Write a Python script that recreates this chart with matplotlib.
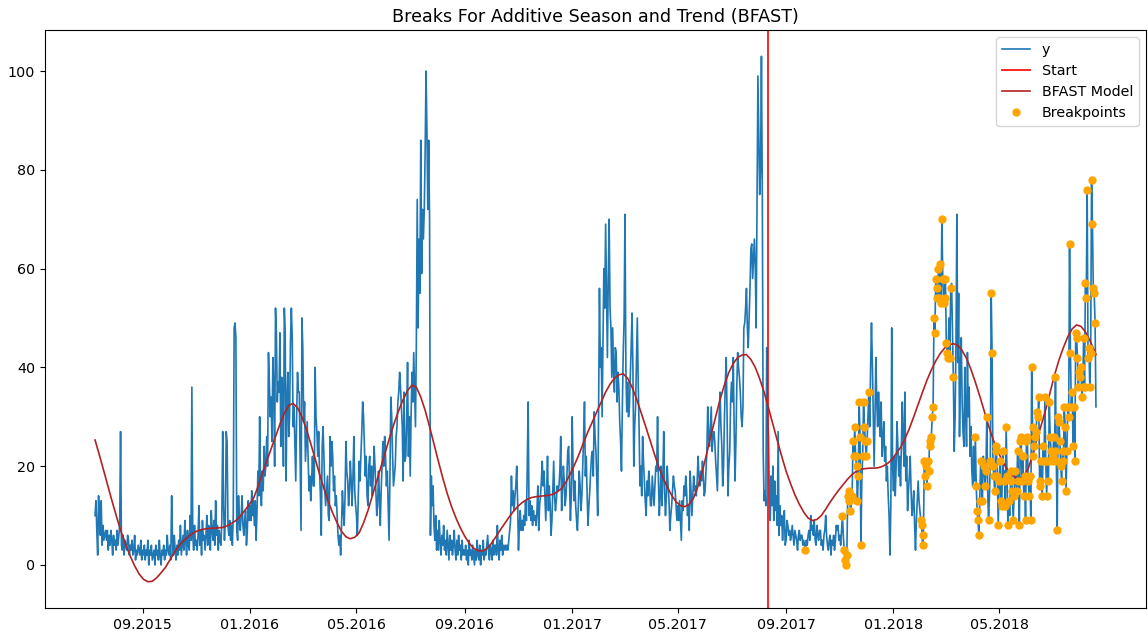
import numpy as np
import pandas as pd
import matplotlib
matplotlib.use("Agg")
import matplotlib.pyplot as plt
import matplotlib.dates as mdates

# ---------------- data (daily values, one list per month) ----------------
y_2015_07 = [10, 13, 7, 2, 14, 9, 6, 13, 4, 8, 5, 6, 7, 5, 7, 3, 6, 4, 7, 5, 2, 6, 4]  # from 07-09
y_2015_08 = [5, 3, 7, 4, 6, 8, 27, 4, 3, 6, 2, 5, 4, 3, 6, 5, 2, 4, 3, 5, 2, 3, 6, 1, 3, 2, 4, 3, 2, 5, 1]
y_2015_09 = [3, 2, 4, 1, 3, 2, 5, 0, 3, 2, 4, 1, 2, 3, 0, 4, 2, 3, 1, 5, 2, 0, 3, 2, 4, 1, 3, 2, 6, 3]
y_2015_10 = [2, 4, 1, 14, 5, 2, 6, 3, 1, 4, 2, 5, 3, 8, 2, 4, 6, 3, 9, 5, 2, 7, 4, 3, 10, 5, 36, 6, 3, 8, 4]
y_2015_11 = [5, 3, 6, 12, 4, 7, 2, 9, 5, 6, 3, 6, 10, 4, 8, 6, 3, 11, 7, 5, 9, 4, 13, 6, 8, 3, 7, 5, 4, 9]
y_2015_12 = [27, 12, 5, 9, 27, 25, 8, 6, 9, 5, 8, 4, 10, 48, 49, 46, 7, 5, 14, 9, 7, 10, 14, 8, 6, 9, 11, 4, 7, 13, 9]
y_2016_01 = [12, 9, 15, 10, 13, 8, 13, 5, 11, 19, 14, 30, 16, 12, 19, 15, 24, 18, 20, 26, 20, 43, 37, 30, 34, 25, 42, 36, 20, 52, 47]
y_2016_02 = [33, 37, 35, 47, 24, 38, 36, 20, 52, 47, 17, 33, 39, 26, 30, 45, 52, 46, 28, 32, 24, 17, 30, 39, 35, 35, 21, 7, 50]
y_2016_03 = [44, 29, 33, 21, 25, 29, 22, 15, 18, 13, 17, 22, 16, 16, 40, 30, 27, 22, 27, 19, 14, 6, 24, 28, 22, 15, 12, 15, 18, 10, 9]
y_2016_04 = [26, 20, 25, 22, 15, 18, 12, 14, 10, 6, 4, 6, 2, 8, 15, 11, 8, 14, 25, 19, 17, 12, 15, 21, 17, 12, 18, 26, 15, 12]
y_2016_05 = [10, 6, 14, 21, 17, 22, 27, 33, 30, 24, 18, 22, 14, 12, 20, 22, 16, 20, 14, 18, 24, 20, 15, 10, 12, 19, 14, 8, 15, 20, 25]
y_2016_06 = [20, 26, 22, 16, 19, 12, 5, 18, 34, 30, 22, 16, 18, 20, 26, 28, 33, 35, 39, 36, 32, 28, 17, 35, 21, 22, 29, 41, 22, 30]
y_2016_07 = [18, 30, 39, 33, 43, 35, 28, 45, 74, 48, 66, 55, 86, 59, 72, 66, 72, 84, 100, 88, 72, 86, 70, 6, 18, 12, 16, 8, 5, 10, 3]
y_2016_08 = [7, 3, 9, 5, 2, 6, 4, 8, 3, 5, 2, 7, 4, 1, 6, 3, 5, 2, 4, 7, 3, 1, 5, 2, 6, 3, 4, 1, 5, 2, 3]
y_2016_09 = [2, 4, 1, 3, 0, 5, 2, 3, 1, 4, 2, 0, 3, 1, 5, 2, 1, 4, 0, 3, 2, 5, 1, 3, 2, 4, 6, 3, 1, 4]
y_2016_10 = [3, 1, 5, 2, 4, 4, 2, 8, 3, 1, 5, 3, 6, 2, 4, 3, 4, 3, 4, 3, 5, 7, 9, 18, 12, 15, 11, 14, 16, 20, 13]
y_2016_11 = [3, 8, 11, 7, 9, 7, 10, 8, 13, 9, 20, 33, 10, 13, 9, 12, 8, 11, 9, 10, 8, 11, 16, 7, 12, 14, 17, 21, 16, 19]
y_2016_12 = [14, 9, 15, 22, 11, 16, 12, 6, 9, 15, 21, 14, 11, 13, 16, 15, 16, 19, 26, 11, 15, 20, 17, 12, 14, 18, 23, 24, 16, 9, 14]
y_2017_01 = [30, 20, 13, 17, 12, 9, 7, 12, 19, 16, 11, 14, 20, 26, 33, 18, 22, 14, 8, 12, 15, 19, 22, 23, 18, 31, 26, 23, 17, 10, 31]
y_2017_02 = [56, 40, 44, 30, 45, 60, 52, 69, 55, 42, 58, 70, 52, 48, 38, 48, 39, 35, 44, 43, 33, 39, 36, 29, 25, 19, 32, 43]
y_2017_03 = [50, 71, 40, 31, 37, 30, 32, 38, 44, 51, 40, 20, 28, 32, 41, 50, 37, 28, 16, 20, 14, 26, 21, 17, 13, 10, 17, 14, 19, 16, 12]
y_2017_04 = [12, 18, 15, 12, 16, 20, 19, 30, 17, 10, 14, 20, 12, 18, 27, 15, 10, 14, 20, 16, 13, 7, 10, 12, 15, 18, 16, 15, 12, 9]
y_2017_05 = [12, 9, 13, 9, 5, 13, 11, 16, 14, 18, 15, 10, 12, 7, 19, 15, 10, 14, 18, 15, 16, 14, 17, 22, 18, 16, 19, 17, 21, 18, 14]
y_2017_06 = [15, 19, 23, 32, 26, 24, 28, 32, 23, 26, 27, 25, 21, 18, 15, 24, 30, 35, 28, 24, 16, 20, 30, 37, 42, 30, 14, 20, 23, 33]
y_2017_07 = [37, 33, 42, 28, 17, 25, 36, 43, 40, 38, 35, 30, 28, 32, 48, 49, 52, 56, 48, 44, 50, 56, 64, 65, 58, 62, 66, 60, 48, 75, 99]
y_2017_08 = [87, 75, 80, 103, 75, 23, 13, 15, 12, 44, 30, 26, 14, 9, 18, 12, 20, 9, 17, 11, 14, 8, 27, 6, 12, 8, 10, 5, 9, 11, 4]
y_2017_09 = [5, 9, 8, 6, 7, 5, 6, 8, 6, 4, 7, 6, 5, 3, 6, 7, 5, 6, 6, 4, 5, 4, 3, 5, 4, 6, 7, 5, 10, 7]
y_2017_10 = [8, 6, 9, 5, 4, 8, 6, 5, 7, 7, 4, 5, 3, 6, 7, 10, 6, 4, 3, 5, 6, 2, 5, 4, 6, 3, 5, 8, 7, 8, 5]
y_2017_11 = [6, 4, 7, 10, 6, 3, 1, 0, 2, 14, 13, 15, 11, 12, 14, 25, 22, 28, 22, 20, 13, 18, 33, 26, 4, 17, 22, 33, 28, 25]
y_2017_12 = [22, 25, 30, 35, 28, 40, 49, 41, 30, 20, 30, 42, 33, 28, 35, 30, 26, 33, 22, 25, 29, 21, 24, 17, 20, 14, 10, 2, 12, 48, 20]
y_2018_01 = [15, 22, 14, 20, 29, 24, 18, 22, 16, 24, 33, 26, 20, 35, 17, 22, 11, 15, 18, 22, 15, 10, 12, 15, 8, 3, 9, 13, 17, 13, 11]
y_2018_02 = [9, 8, 4, 6, 21, 18, 20, 16, 21, 19, 25, 24, 26, 30, 32, 50, 47, 58, 56, 54, 60, 54, 61, 53, 70, 58, 53, 54]
y_2018_03 = [58, 45, 43, 42, 50, 42, 56, 57, 48, 38, 23, 30, 45, 71, 41, 55, 26, 39, 46, 33, 27, 24, 40, 31, 24, 43, 30, 36, 22, 28, 19]
y_2018_04 = [16, 24, 17, 26, 16, 11, 9, 6, 13, 21, 18, 13, 22, 20, 16, 19, 30, 15, 9, 14, 21, 55, 43, 20, 18, 15, 24, 23, 18, 8]
y_2018_05 = [17, 21, 13, 12, 23, 17, 19, 12, 28, 18, 8, 13, 10, 17, 19, 15, 9, 14, 19, 17, 15, 23, 17, 8, 25, 26, 17, 22, 14, 18, 9]
y_2018_06 = [25, 26, 17, 14, 18, 9, 40, 28, 22, 24, 26, 27, 31, 30, 34, 17, 16, 21, 14, 24, 21, 34, 21, 14, 21, 17, 33, 26, 23, 21]
y_2018_07 = [22, 26, 23, 38, 21, 7, 30, 29, 25, 20, 17, 23, 21, 32, 28, 15, 23, 32, 30, 65, 43, 32, 35, 24, 32, 21, 47, 46, 42, 36, 39]
y_2018_08 = [38, 40, 34, 36, 46, 36, 57, 54, 76, 42, 44, 36, 43, 78, 69, 56, 55, 49, 32]

months = [
    ("2015-07-09", y_2015_07), ("2015-08-01", y_2015_08), ("2015-09-01", y_2015_09),
    ("2015-10-01", y_2015_10), ("2015-11-01", y_2015_11), ("2015-12-01", y_2015_12),
    ("2016-01-01", y_2016_01), ("2016-02-01", y_2016_02), ("2016-03-01", y_2016_03),
    ("2016-04-01", y_2016_04), ("2016-05-01", y_2016_05), ("2016-06-01", y_2016_06),
    ("2016-07-01", y_2016_07), ("2016-08-01", y_2016_08), ("2016-09-01", y_2016_09),
    ("2016-10-01", y_2016_10), ("2016-11-01", y_2016_11), ("2016-12-01", y_2016_12),
    ("2017-01-01", y_2017_01), ("2017-02-01", y_2017_02), ("2017-03-01", y_2017_03),
    ("2017-04-01", y_2017_04), ("2017-05-01", y_2017_05), ("2017-06-01", y_2017_06),
    ("2017-07-01", y_2017_07), ("2017-08-01", y_2017_08), ("2017-09-01", y_2017_09),
    ("2017-10-01", y_2017_10), ("2017-11-01", y_2017_11), ("2017-12-01", y_2017_12),
    ("2018-01-01", y_2018_01), ("2018-02-01", y_2018_02), ("2018-03-01", y_2018_03),
    ("2018-04-01", y_2018_04), ("2018-05-01", y_2018_05), ("2018-06-01", y_2018_06),
    ("2018-07-01", y_2018_07), ("2018-08-01", y_2018_08),
]

# breakpoint days: month start -> day indices within that month's list
bp_2017_09 = [22]
bp_2017_11 = [3, 5, 6, 7, 8, 9, 10, 11, 12, 14, 15, 16, 17, 18, 19, 20, 21, 22, 23, 24, 26, 27, 28, 29]
bp_2017_12 = [0, 1, 3]
bp_2018_02 = list(range(28))
bp_2018_03 = [0, 1, 2, 3, 5, 6, 9]
bp_2018_04 = [3, 4, 5, 6, 7, 8, 9, 11, 13, 14, 15, 16, 18, 20, 21, 22, 23, 24, 25, 26, 27, 28, 29]
bp_2018_05 = [i for i in range(31) if i not in (6, 12, 19)]
bp_2018_06 = list(range(30))
bp_2018_07 = list(range(31))
bp_2018_08 = list(range(18))
breakpoints = {
    "2017-09-01": bp_2017_09, "2017-11-01": bp_2017_11, "2017-12-01": bp_2017_12,
    "2018-02-01": bp_2018_02, "2018-03-01": bp_2018_03, "2018-04-01": bp_2018_04,
    "2018-05-01": bp_2018_05, "2018-06-01": bp_2018_06, "2018-07-01": bp_2018_07,
    "2018-08-01": bp_2018_08,
}

# BFAST model, read every 5 days from the first date (plus the last day)
model_step_days = 5
model_values = [
    25.3, 22.2, 19, 15.7, 12.5, 9.4, 6.5, 4, 1.8, -0.2,
    -1.8, -2.9, -3.4, -3.3, -2.6, -1.6, -0.5, 1.0, 2.5, 3.8,
    4.8, 5.6, 6.3, 6.8, 7.1, 7.3, 7.4, 7.45, 7.5, 7.6,
    7.9, 8.4, 9.0, 9.9, 11.0, 12.2, 13.5, 15.8, 18.5, 21,
    23.5, 26, 28.5, 30.7, 32.3, 32.7, 31.8, 30, 27.5, 24.6,
    21.5, 18.4, 15.5, 12.8, 10.5, 8.5, 6.8, 5.7, 5.3, 5.6,
    6.5, 8.5, 11, 14, 17, 20, 23, 26, 28.8, 31.3,
    33.5, 35.3, 36.4, 36, 34, 31.3, 28, 24.5, 21, 17.6,
    14.5, 11.8, 9.5, 7.5, 5.8, 4.4, 3.4, 2.9, 2.8, 3.3,
    4.3, 5.6, 7, 8.3, 9.6, 10.8, 11.8, 12.6, 13.2, 13.6,
    13.8, 13.9, 14, 14.1, 14.3, 14.8, 15.5, 16.8, 18.5, 20.4,
    22.5, 24.8, 27, 29, 31, 33, 35, 36.6, 37.8, 38.5,
    38.7, 37.8, 36, 33.7, 31, 28.3, 25.5, 22.7, 20, 17.7,
    15.8, 14.1, 12.8, 12, 11.8, 12.3, 13.6, 16, 19, 22.7,
    26.5, 30, 33.5, 36.5, 39, 40.8, 42, 42.5, 42.6, 41.6,
    40, 37.7, 35, 31.8, 28.5, 25.2, 22, 19, 16.5, 14.2,
    12.3, 10.7, 9.5, 9.0, 9.2, 10, 11.3, 12.7, 14, 15.2,
    16.3, 17.4, 18.3, 19, 19.4, 19.5, 19.6, 19.6, 19.7, 20,
    20.5, 21.3, 22.5, 23.8, 25.5, 27.6, 30, 32.5, 35, 37.4,
    39.5, 41.3, 42.8, 43.9, 44.6, 44.8, 44.5, 43.4, 41.8, 39.6,
    37, 34.2, 31.2, 28.2, 25.5, 23.2, 21.3, 19.7, 18.5, 17.7,
    17.4, 18, 19.5, 22.2, 25.5, 28.4, 31.5, 35, 38.5, 41.5,
    44, 46.2, 47.8, 48.6, 48.3, 47.2, 45.5, 43.5,
]
model_last_value = 42.6
start_date = "2017-08-11"
tick_dates = ["2015-09-01", "2016-01-01", "2016-05-01", "2016-09-01", "2017-01-01",
              "2017-05-01", "2017-09-01", "2018-01-01", "2018-05-01"]

# ---------------- build series ----------------
dates, vals = [], []
for m0, lst in months:
    d = pd.date_range(m0, periods=len(lst), freq="D")
    dates.extend(d)
    vals.extend(lst)
dates = pd.DatetimeIndex(dates)
vals = np.array(vals, dtype=float)

month_lookup = dict(months)
bp_dates, bp_vals = [], []
for m0, idxs in breakpoints.items():
    lst = month_lookup[m0]
    d = pd.date_range(m0, periods=len(lst), freq="D")
    for i in idxs:
        if i < len(lst):
            bp_dates.append(d[i])
            bp_vals.append(lst[i])

first = dates[0]
last = dates[-1]
model_dates = [first + pd.Timedelta(days=model_step_days * k) for k in range(len(model_values))]
model_dates.append(last)
model_y = list(model_values) + [model_last_value]

# ---------------- plot ----------------
plt.rcParams["font.family"] = "DejaVu Sans"
plt.rcParams["font.size"] = 10.3
fig = plt.figure(figsize=(11.48, 6.32), dpi=100)
ax = fig.add_axes([45 / 1148, (632 - 608) / 632, 1101 / 1148, (608 - 30) / 632])

ax.plot(dates, vals, color="#1f77b4", lw=1.2, label="y")
ax.axvline(pd.Timestamp(start_date), color="red", lw=1.4, alpha=0.85, label="Start")
ax.plot(model_dates, model_y, color="#b22222", lw=1.2, label="BFAST Model")
ax.plot(bp_dates, bp_vals, "o", color="orange", ms=5, ls="none", label="Breakpoints")

ax.set_xticks(pd.to_datetime(tick_dates))
ax.xaxis.set_major_formatter(mdates.DateFormatter("%m.%Y"))
ax.set_yticks([0, 20, 40, 60, 80, 100])
ax.set_title("Breaks For Additive Season and Trend (BFAST)", fontsize=12.6)
ax.legend(loc="upper right", fontsize=10.3)

fig.savefig("out.png", dpi=100)
